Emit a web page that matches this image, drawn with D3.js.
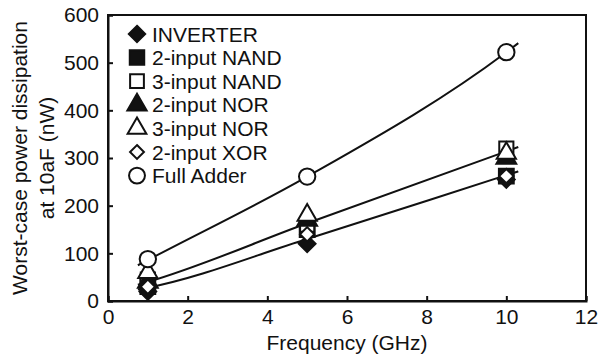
<!DOCTYPE html>
<html><head><meta charset="utf-8">
<script src="https://cdn.jsdelivr.net/npm/d3@7"></script>
<style>body{margin:0;background:#fff}svg{display:block}text{font-family:"Liberation Sans",Arial,sans-serif;fill:#111}</style>
</head><body>
<script>
const freqs = [1, 5, 10];
const seriesNames = ["INVERTER","2-input NAND","3-input NAND","2-input NOR","3-input NOR","2-input XOR","Full Adder"];
const inverter = [20, 120, 255];
const nand2 = [30, 150, 262];
const nand3 = [45, 160, 320];
const nor2 = [40, 170, 300];
const nor3 = [60, 180, 310];
const xor2 = [30, 140, 262];
const fullAdder = [88, 261, 522];
const trendX = [0.75, 1, 5, 10, 10.3];
const trendFA = [75, 86, 261, 522, 541];
const trendUpper = [34, 40, 163, 314, 323];
const trendLower = [24, 28, 130, 264, 272];
const xTicks = [0, 2, 4, 6, 8, 10, 12];
const yTicks = [0, 100, 200, 300, 400, 500, 600];

const FS = 21;
const W = 603, H = 354;
const m = {l:108, r:17, t:15, b:53};
const svg = d3.select("body").append("svg").attr("width", W).attr("height", H);
const x = d3.scaleLinear().domain([0, 12]).range([m.l, W - m.r]);
const y = d3.scaleLinear().domain([0, 600]).range([H - m.b, m.t]);

svg.append("rect").attr("x", x(0)).attr("y", y(600)).attr("width", x(12) - x(0)).attr("height", y(0) - y(600))
  .attr("fill", "none").attr("stroke", "#111").attr("stroke-width", 2);

const xAxis = svg.append("g").attr("transform", `translate(0,${y(0)})`)
  .call(d3.axisBottom(x).tickValues(xTicks).tickSize(-5).tickPadding(8).tickFormat(d3.format("d")));
const yAxis = svg.append("g").attr("transform", `translate(${x(0)},0)`)
  .call(d3.axisLeft(y).tickValues(yTicks).tickSize(-5).tickPadding(9).tickFormat(d3.format("d")));
[xAxis, yAxis].forEach(g => {
  g.select(".domain").attr("stroke", "#111").attr("stroke-width", 2);
  g.selectAll(".tick line").attr("stroke", "#111").attr("stroke-width", 2);
  g.selectAll("text").attr("font-size", FS).attr("font-family", '"Liberation Sans",Arial,sans-serif').attr("fill", "#111");
});

const line = d3.line().x(d => x(d[0])).y(d => y(d[1])).curve(d3.curveMonotoneX);
[trendFA, trendUpper, trendLower].forEach(t => {
  svg.append("path").datum(trendX.map((v, i) => [v, t[i]])).attr("d", line)
    .attr("fill", "none").attr("stroke", "#111").attr("stroke-width", 2);
});

const styles = [
  {type: d3.symbolDiamond2, size: 180, fill: "#111"},
  {type: d3.symbolSquare, size: 220, fill: "#111"},
  {type: d3.symbolSquare, size: 200, fill: "#fff"},
  {type: d3.symbolTriangle, size: 170, fill: "#111"},
  {type: d3.symbolTriangle, size: 160, fill: "#fff"},
  {type: d3.symbolDiamond2, size: 130, fill: "#fff"},
  {type: d3.symbolCircle, size: 210, fill: "#fff"}
];
const allSeries = [inverter, nand2, nand3, nor2, nor3, xor2, fullAdder];

allSeries.forEach((vals, si) => {
  const st = styles[si];
  svg.append("g").selectAll("path").data(vals).join("path")
    .attr("transform", (d, i) => `translate(${x(freqs[i])},${y(d)})`)
    .attr("d", d3.symbol().type(st.type).size(st.size))
    .attr("fill", st.fill).attr("stroke", "#111").attr("stroke-width", 2);
});

const lg = svg.append("g");
seriesNames.forEach((name, i) => {
  const st = styles[i];
  const cy = 34 + i * 23.6;
  lg.append("path").attr("transform", `translate(137,${cy})`)
    .attr("d", d3.symbol().type(st.type).size(st.size * 0.95))
    .attr("fill", st.fill).attr("stroke", "#111").attr("stroke-width", 2);
  lg.append("text").attr("x", 152).attr("y", cy).attr("dy", "0.36em").attr("font-size", FS).text(name);
});

svg.append("text").attr("x", x(6)).attr("y", 350).attr("text-anchor", "middle").attr("font-size", FS).text("Frequency (GHz)");
const yl = svg.append("text").attr("transform", `translate(0,${(y(0) + y(600)) / 2}) rotate(-90)`).attr("text-anchor", "middle").attr("font-size", FS);
yl.append("tspan").attr("x", 0).attr("y", 27).text("Worst-case power dissipation");
yl.append("tspan").attr("x", 0).attr("y", 54).text("at 10aF (nW)");
</script>
</body></html>
